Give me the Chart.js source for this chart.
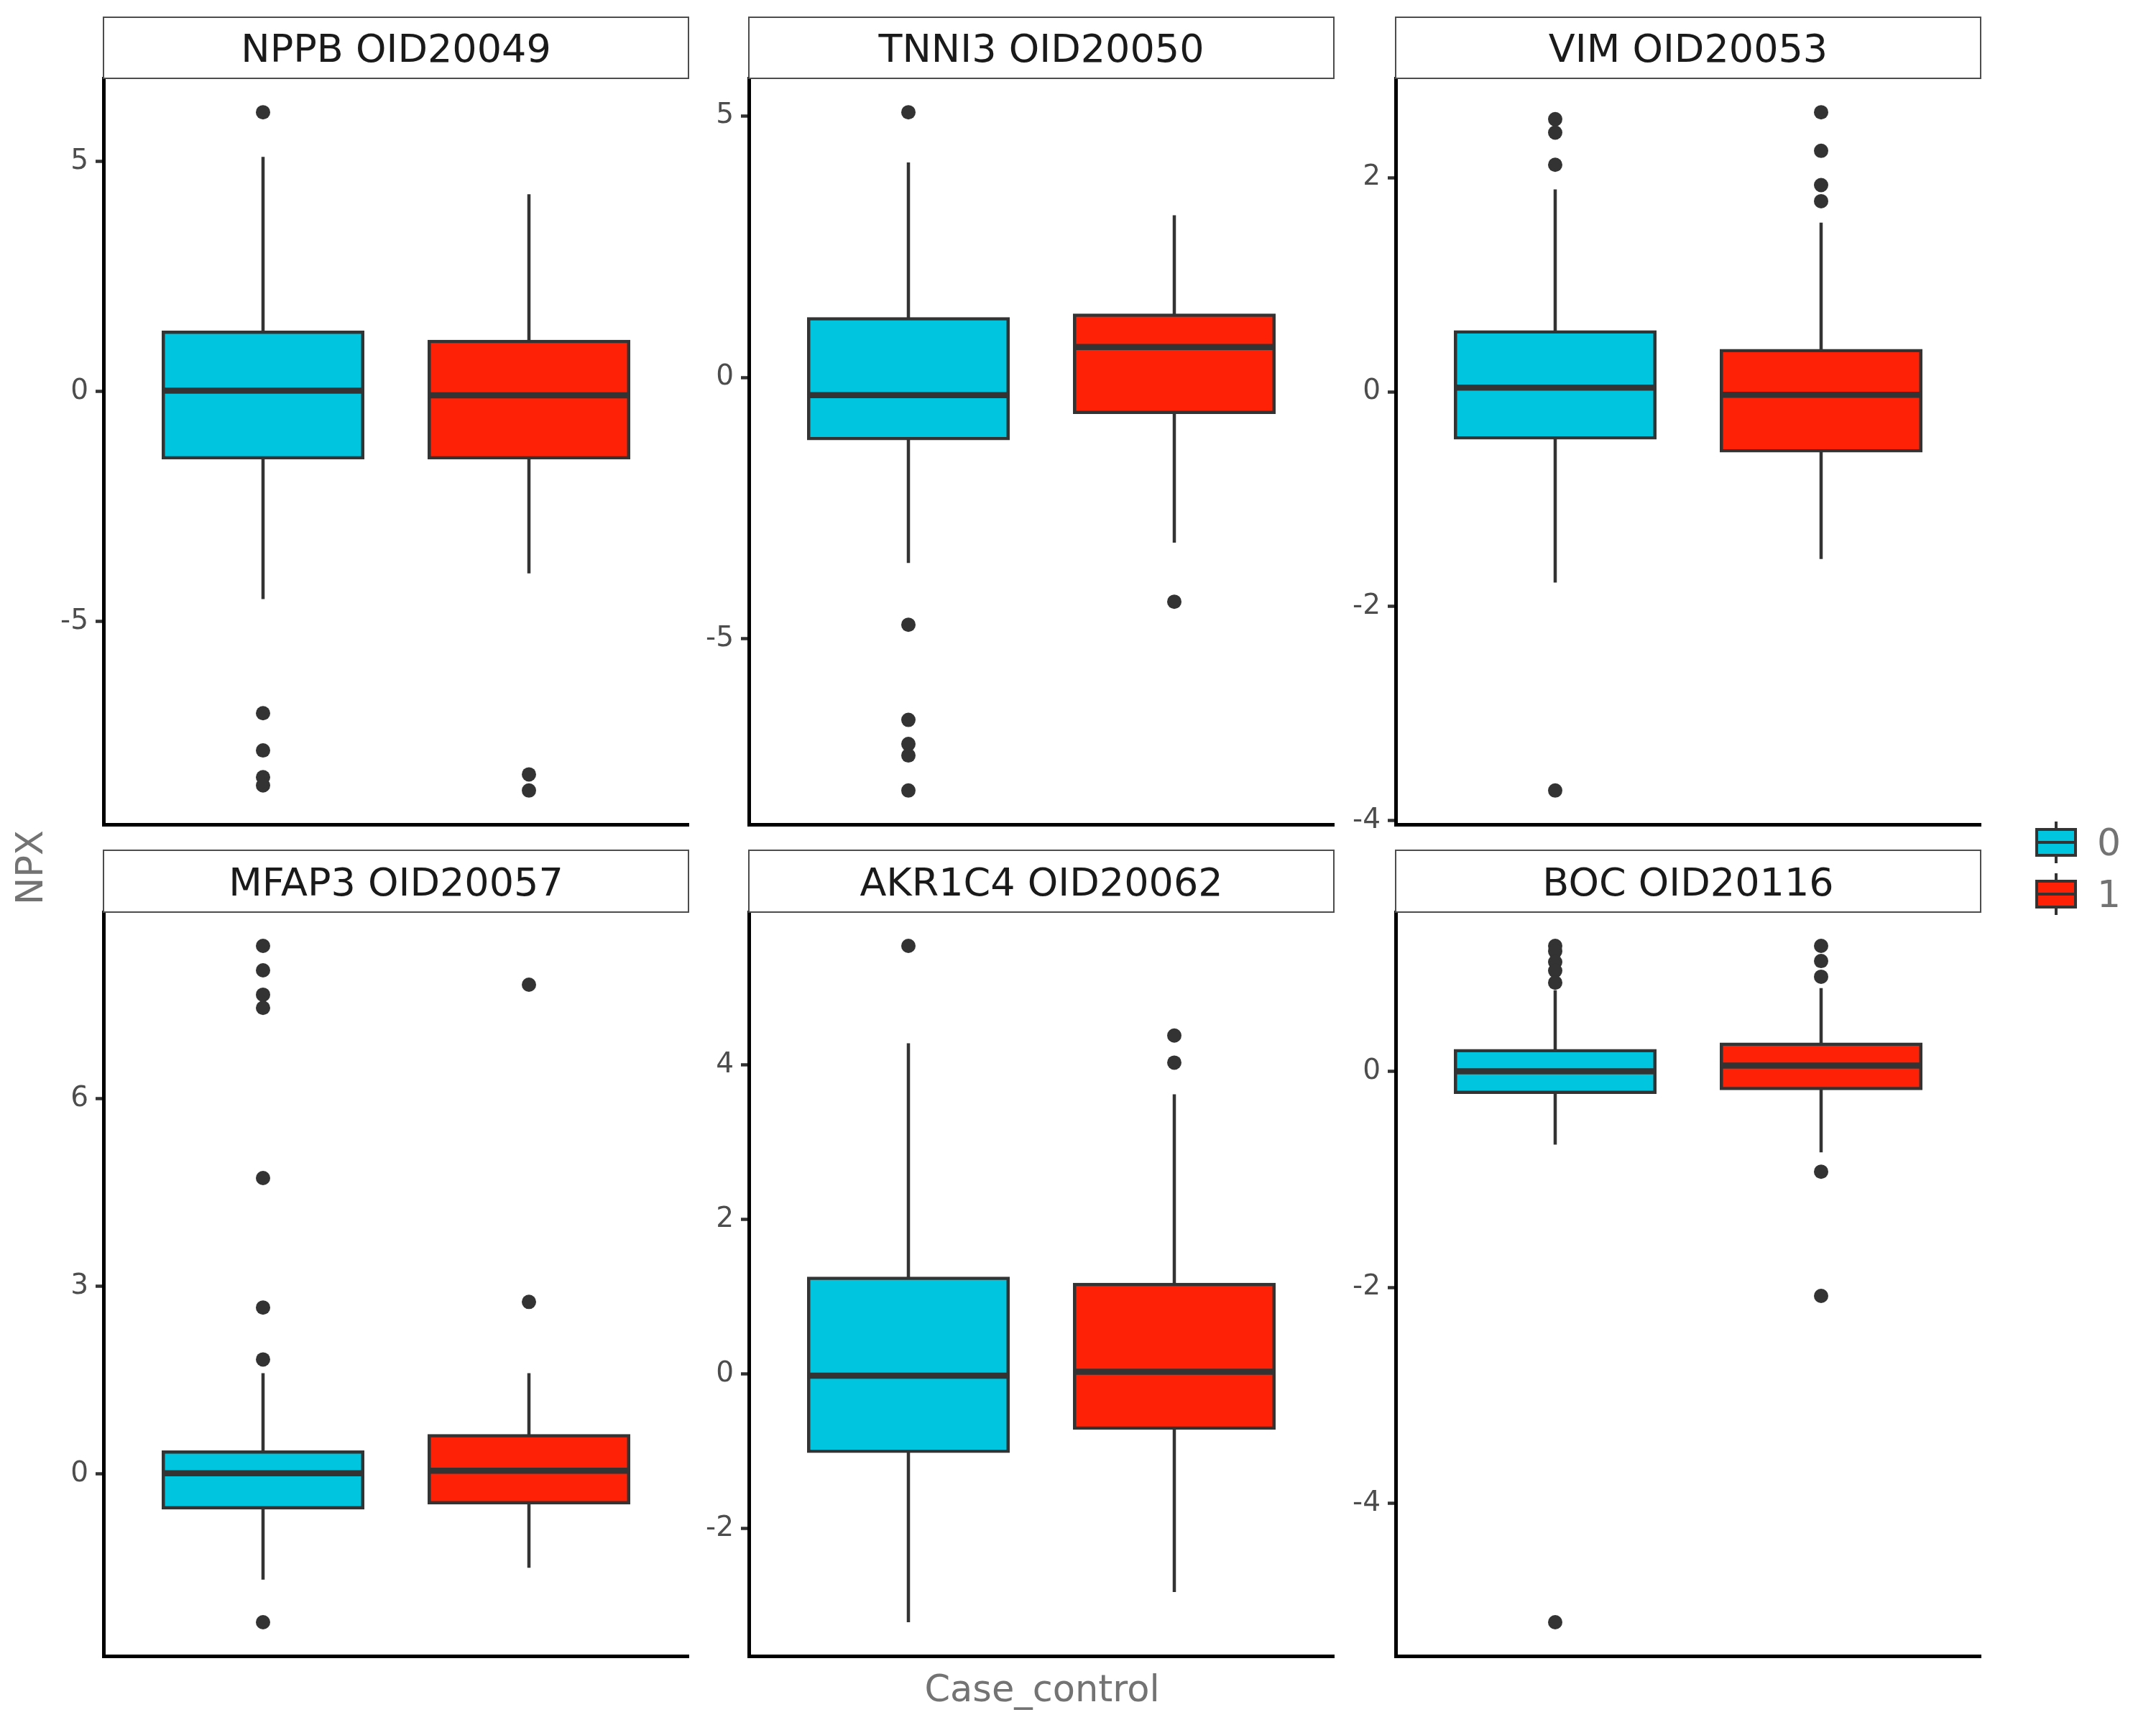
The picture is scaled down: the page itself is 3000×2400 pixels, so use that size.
<!DOCTYPE html>
<html>
<head>
<meta charset="utf-8">
<script src="https://cdn.jsdelivr.net/npm/chart.js@4.4.1/dist/chart.umd.min.js"></script>
<style>
  html, body { margin: 0; padding: 0; background: #ffffff; }
  body { width: 3000px; height: 2400px; position: relative; overflow: hidden; font-family: "DejaVu Sans", sans-serif; }
  canvas { position: absolute; }
  .axis-title { position: absolute; color: #737373; font-size: 51px; line-height: 1; white-space: nowrap; }
  .legend-label { position: absolute; color: #737373; font-size: 52px; line-height: 1; }
  .lg { position: absolute; box-sizing: border-box; }
</style>
</head>
<body>
<div class="axis-title" id="xtitle">Case_control</div>
<div class="axis-title" id="ytitle">NPX</div>
<script>
// ---------------- data ----------------
const PANELS = ['NPPB OID20049', 'TNNI3 OID20050', 'VIM OID20053', 'MFAP3 OID20057', 'AKR1C4 OID20062', 'BOC OID20116'];
const GROUPS = ['0', '1'];
// per panel: [group 0, group 1]
const WHISKER_LOW  = [[-4.51, -3.95], [-3.55, -3.16], [-1.78, -1.56], [-1.69, -1.50], [-3.21, -2.82], [-0.68, -0.75]];
const Q1           = [[-1.44, -1.44], [-1.17, -0.67], [-0.43, -0.55], [-0.54, -0.46], [-1.00, -0.70], [-0.196, -0.16]];
const MEDIAN       = [[0.02, -0.08], [-0.34, 0.58], [0.04, -0.026], [0.01, 0.05], [-0.02, 0.03], [0.00, 0.053]];
const Q3           = [[1.29, 1.09], [1.12, 1.19], [0.56, 0.386], [0.35, 0.61], [1.24, 1.16], [0.19, 0.25]];
const WHISKER_HIGH = [[5.10, 4.29], [4.11, 3.10], [1.89, 1.58], [1.61, 1.61], [4.28, 3.62], [0.75, 0.77]];
const OUTLIERS_0 = [
  [6.07, -6.99, -7.80, -8.38, -8.56],
  [5.07, -4.73, -6.55, -7.01, -7.23, -7.90],
  [2.545, 2.42, 2.12, -3.72],
  [8.44, 8.05, 7.66, 7.45, 4.73, 2.66, 1.83, -2.37],
  [5.54],
  [1.16, 1.11, 1.01, 0.93, 0.82, -5.10]
];
const OUTLIERS_1 = [
  [-8.32, -8.67],
  [-4.29],
  [2.61, 2.25, 1.93, 1.78],
  [7.82, 2.75],
  [4.38, 4.03],
  [1.16, 1.02, 0.875, -0.93, -2.08]
];
const Y_TICKS = [[-5, 0, 5], [-5, 0, 5], [-4, -2, 0, 2], [0, 3, 6], [-2, 0, 2, 4], [-4, -2, 0]];

// ---------------- styles / layout ----------------
const FILL_COLORS = ['#00C5DF', '#FF2105'];
const EDGE = '#333333';
const BOX_WIDTH = 0.75;
const COL_LEFT = [144, 1042, 1942];
const COL_RIGHT = [958, 1856, 2756];
const ROW_STRIP_TOP = [24, 1183];
const ROW_PLOT_TOP = [109, 1269];
const ROW_PLOT_BOTTOM = [1147, 2304];
const AXIS_SPACE = 130;
const FONT = '"DejaVu Sans", sans-serif';
const STRIP_FONT = 54;

const stripPlugin = {
  id: 'strip',
  afterDraw(chart, args, opts) {
    const { ctx, chartArea } = chart;
    const top = opts.top, bottom = chartArea.top;
    const l = chartArea.left, r = chartArea.right;
    ctx.save();
    ctx.fillStyle = '#ffffff';
    ctx.fillRect(l, top, r - l, bottom - top);
    ctx.strokeStyle = '#4D4D4D';
    ctx.lineWidth = 2;
    ctx.strokeRect(l, top, r - l, bottom - top);
    ctx.fillStyle = '#1A1A1A';
    ctx.font = STRIP_FONT + 'px ' + FONT;
    ctx.textAlign = 'center';
    ctx.textBaseline = 'alphabetic';
    ctx.fillText(opts.text, (l + r) / 2, (top + bottom) / 2 + 0.3645 * STRIP_FONT);
    ctx.restore();
  }
};

function makePanel(p) {
  const col = p % 3, row = Math.floor(p / 3);
  const left = COL_LEFT[col], right = COL_RIGHT[col];
  const stripTop = ROW_STRIP_TOP[row], plotTop = ROW_PLOT_TOP[row], plotBottom = ROW_PLOT_BOTTOM[row];
  const cvLeft = left - AXIS_SPACE, cvTop = stripTop - 4;
  const padRight = 10, padBottom = 50;
  const cvW = right - cvLeft + padRight, cvH = plotBottom - cvTop + padBottom;

  const canvas = document.createElement('canvas');
  canvas.width = cvW; canvas.height = cvH;
  canvas.style.left = cvLeft + 'px'; canvas.style.top = cvTop + 'px';
  canvas.style.width = cvW + 'px'; canvas.style.height = cvH + 'px';
  document.body.appendChild(canvas);

  const outl = [OUTLIERS_0[p], OUTLIERS_1[p]];
  const all = [];
  for (let g = 0; g < 2; g++) {
    all.push(WHISKER_LOW[p][g], WHISKER_HIGH[p][g], ...outl[g]);
  }
  const dmin = Math.min(...all), dmax = Math.max(...all);
  const ex = (dmax - dmin) * 0.05;

  const whiskers = [], medians = [], boxes = [], points = [];
  for (let g = 0; g < 2; g++) {
    const x = g + 1;
    whiskers.push({ x: x, y: WHISKER_LOW[p][g] }, { x: x, y: WHISKER_HIGH[p][g] }, { x: x, y: null });
    medians.push({ x: x - BOX_WIDTH / 2, y: MEDIAN[p][g] }, { x: x + BOX_WIDTH / 2, y: MEDIAN[p][g] }, { x: x, y: null });
    boxes.push({ x: x, y: [Q1[p][g], Q3[p][g]] });
    outl[g].forEach(v => points.push({ x: x, y: v }));
  }

  new Chart(canvas, {
    type: 'bar',
    data: {
      datasets: [
        { type: 'line', data: whiskers, borderColor: EDGE, borderWidth: 4.5, pointRadius: 0, spanGaps: false, fill: false, order: 4 },
        { type: 'bar', data: boxes, backgroundColor: FILL_COLORS, borderColor: EDGE, borderWidth: 4.5,
          borderSkipped: false, categoryPercentage: 1, barPercentage: BOX_WIDTH, inflateAmount: 2.25, order: 3 },
        { type: 'line', data: medians, borderColor: EDGE, borderWidth: 8.5, pointRadius: 0, spanGaps: false, fill: false, order: 2 },
        { type: 'scatter', data: points, pointRadius: 10, pointBackgroundColor: EDGE, backgroundColor: EDGE, pointBorderWidth: 0, borderWidth: 0, order: 1 }
      ]
    },
    options: {
      responsive: false,
      animation: false,
      devicePixelRatio: 1,
      layout: { padding: { left: 0, right: padRight, top: plotTop - cvTop, bottom: padBottom } },
      plugins: {
        legend: { display: false },
        tooltip: { enabled: false },
        strip: { text: PANELS[p], top: stripTop - cvTop }
      },
      scales: {
        x: {
          type: 'linear', min: 0.4, max: 2.6, offset: false,
          grid: { display: false },
          ticks: { display: false, stepSize: 1, includeBounds: false },
          border: { display: true, color: '#000000', width: 5 },
          afterFit: s => { s.height = 0; }
        },
        y: {
          type: 'linear', min: dmin - ex, max: dmax + ex,
          afterBuildTicks: s => { s.ticks = Y_TICKS[p].map(v => ({ value: v })); },
          afterFit: s => { s.width = AXIS_SPACE; },
          ticks: { color: '#4D4D4D', font: { family: FONT, size: 39 }, padding: 10, callback: v => String(v) },
          grid: { display: true, drawOnChartArea: false, drawTicks: true, tickLength: 11, tickColor: EDGE, tickWidth: 4.5 },
          border: { display: true, color: '#000000', width: 5 }
        }
      }
    },
    plugins: [stripPlugin]
  });
}

for (let p = 0; p < PANELS.length; p++) makePanel(p);

// axis titles
const xt = document.getElementById('xtitle');
xt.style.left = ((COL_LEFT[0] + COL_RIGHT[2]) / 2) + 'px';
xt.style.top = '2324px';
xt.style.transform = 'translateX(-50%)';
const yt = document.getElementById('ytitle');
yt.style.left = '41px';
yt.style.top = ((ROW_PLOT_TOP[0] + ROW_PLOT_BOTTOM[1]) / 2) + 'px';
yt.style.transform = 'translate(-50%, -50%) rotate(-90deg)';

// legend
const LEG_BOX_LEFT = 2832, LEG_BOX_W = 58, LEG_BOX_H = 40, LEG_TOPS = [1152, 1224], LEG_WHISK = 9;
GROUPS.forEach((g, i) => {
  const top = LEG_TOPS[i];
  const wh = document.createElement('div');
  wh.className = 'lg';
  Object.assign(wh.style, { left: (LEG_BOX_LEFT + LEG_BOX_W / 2 - 2.25) + 'px', top: (top - LEG_WHISK) + 'px',
    width: '4.5px', height: (LEG_BOX_H + 2 * LEG_WHISK) + 'px', background: EDGE });
  document.body.appendChild(wh);
  const bx = document.createElement('div');
  bx.className = 'lg';
  Object.assign(bx.style, { left: LEG_BOX_LEFT + 'px', top: top + 'px', width: LEG_BOX_W + 'px', height: LEG_BOX_H + 'px',
    background: FILL_COLORS[i], border: '4.5px solid ' + EDGE });
  document.body.appendChild(bx);
  const md = document.createElement('div');
  md.className = 'lg';
  Object.assign(md.style, { left: LEG_BOX_LEFT + 'px', top: (top + LEG_BOX_H / 2 - 2.25) + 'px', width: LEG_BOX_W + 'px',
    height: '4.5px', background: EDGE });
  document.body.appendChild(md);
  const lb = document.createElement('div');
  lb.className = 'legend-label';
  lb.textContent = g;
  Object.assign(lb.style, { left: '2918px', top: (top + LEG_BOX_H / 2 - 26) + 'px' });
  document.body.appendChild(lb);
});
</script>
</body>
</html>
